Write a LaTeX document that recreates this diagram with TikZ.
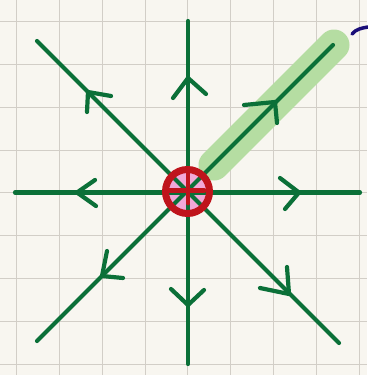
\documentclass[tikz,border=0pt]{standalone}
\begin{document}
\begin{tikzpicture}[x=1pt,y=-1pt,
  gridline/.style={draw=gridc,line width=1.1pt},
  flow/.style={draw=flowc,line width=4.2pt,line cap=round},
  chev/.style={draw=flowc,line width=4.2pt,line cap=round,line join=round},
  hilite/.style={draw=hlc,line width=31pt,line cap=round},
  ring/.style={draw=ringc,line width=7pt},
  redmark/.style={draw=ringc,line width=4.8pt,line cap=round}]
\definecolor{paper}{HTML}{F8F6F0}
\definecolor{gridc}{HTML}{D2CEC7}
\definecolor{flowc}{HTML}{0B7038}
\definecolor{hlc}{HTML}{B5DDA2}
\definecolor{ringc}{HTML}{BF141C}
\definecolor{pinkc}{HTML}{F2A8D8}
\definecolor{inkc}{HTML}{1A0E78}
\fill[paper] (0,0) rectangle (367,375);
\useasboundingbox (0,0) rectangle (367,375);
% grid
\foreach \i in {0,...,8} {
  \draw[gridline] ({16.7+42.8*\i},0) -- ({16.7+42.8*\i},375);
  \draw[gridline] (0,{21.7+42.8*\i}) -- (367,{21.7+42.8*\i});
}
% coordinates
\coordinate (c) at (188,192.5);
\coordinate (rc) at (187.5,191.5);
\coordinate (n) at (188,21);
\coordinate (s) at (188,364);
\coordinate (w) at (15,192.5);
\coordinate (e) at (360,192.5);
\coordinate (nw) at (37,41);
\coordinate (se) at (339,343);
\coordinate (ne) at (333,45);
\coordinate (sw) at (37,341);
\coordinate (hA) at (214,165);
\coordinate (hB) at (334,45);
% highlight
\draw[hilite] (hA) -- (hB);
% pink fill
\fill[pinkc] (rc) circle (21);
% flow lines
\draw[flow] (n) -- (s);
\draw[flow] (w) -- (e);
\draw[flow] (nw) -- (se);
\draw[flow] (ne) -- (sw);
% chevrons
\draw[chev] (173,98) -- (188,78) -- (206,94);
\draw[chev] (171,289) -- (188,305) -- (204,290);
\draw[chev] (95,180) -- (77,192.5) -- (96,206);
\draw[chev] (280,178) -- (299,192.5) -- (285,209);
\draw[chev] (111,96) -- (88,92) -- (87,112);
\draw[chev] (244,105) -- (275,102) -- (277,123);
\draw[chev] (107,251) -- (102,276) -- (123,278);
\draw[chev] (260,288) -- (289,294) -- (287,267);
% red ring and mark
\draw[ring] (rc) circle (22);
\draw[redmark] (188,174) -- (188,203);
\draw[redmark] (169,190.5) -- (204,190.5);
% blue ink stroke
\draw[draw=inkc,line width=3.5pt,line cap=round] (352,34) .. controls (356,29) and (362,28) .. (368,27);
\end{tikzpicture}
\end{document}
